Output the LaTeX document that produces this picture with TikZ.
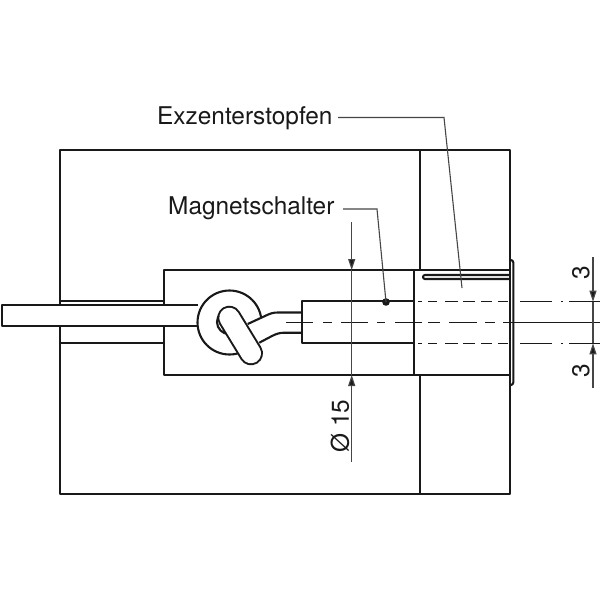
\documentclass[tikz,border=0pt]{standalone}
\usepackage{fontspec}
\setmainfont{TeX Gyre Heros}
\usetikzlibrary{arrows.meta}
\definecolor{ink}{RGB}{25,25,25}
\definecolor{thin}{RGB}{70,70,70}
\tikzset{
  x=1pt,y=-1pt,
  heavy/.style={line width=2.1pt,draw=ink,line cap=butt,line join=round},
  axis/.style={line width=1.5pt,draw=ink},
  leader/.style={line width=1.1pt,draw=thin},
  dimline/.style={line width=1.2pt,draw=thin},
  dimtip/.style={-{Triangle[length=11pt,width=7pt,fill=ink]}},
  lbl/.style={inner sep=0pt,font=\fontsize{24.4}{28}\selectfont,text=ink},
  dimlbl/.style={inner sep=0pt,rotate=90,font=\fontsize{24.4}{28}\selectfont,text=ink},
}
\begin{document}
\begin{tikzpicture}
\useasboundingbox (0,0) rectangle (600,600);
\fill[white] (0,0) rectangle (600,600);
% body
\draw[heavy] (60,305) -- (60,150) -- (510,150) -- (510,494) -- (60,494) -- (60,326);
\draw[heavy] (420,150) -- (420,270);
\draw[heavy] (420,375) -- (420,494);
\draw[heavy] (164,305) -- (164,270) -- (510,270);
\draw[heavy] (164,326) -- (164,375) -- (510,375);
\draw[heavy] (414,270) -- (414,375);
\draw[heavy] (60,301) -- (164,301);
\draw[heavy] (60,343) -- (164,343);
% rod
\draw[heavy] (198,305) -- (2,305) -- (2,326) -- (198,326);
% ring
\draw[heavy,fill=white] (229.5,322.5) circle[radius=32];
\draw[heavy] (229,322) circle[radius=12];
% wire
\fill[white] (246,325) -- (265,316) -- (278,312.5) -- (302,312.5) -- (302,332.7) -- (285,332.7) -- (258,344) -- cycle;
\draw[heavy] (247.7,324) -- (265,316) .. controls (270,313.5) and (273,312.5) .. (278,312.5) -- (302.3,312.5);
\draw[heavy] (259.3,342.7) -- (272,336) .. controls (277,333.5) and (280,332.7) .. (285,332.7) -- (302.3,332.7);
% link
\coordinate (la) at (229.3,317.7);
\coordinate (lb) at (251,353.3);
\draw[line width=24pt,draw=ink,line cap=round] (la) -- (lb);
\draw[line width=20pt,draw=white,line cap=round] (la) -- (lb);
% switch
\draw[heavy] (414,301) -- (302.3,301) -- (302.3,343) -- (414,343);
\fill[ink] (386,302) circle[radius=3.8];
% centre line
\foreach \a/\b in {286/313,323/332,341/368,377/385,395/422,428/440,449/477,485/495,503/600}
  \draw[axis] (\a,322.3) -- (\b,322.3);
% hidden lines
\foreach \yy in {301.7,343.3}
  \foreach \a/\b in {418/422,428/437,445/458,463/475,481/492,498/508,520/552,561/563,569/600}
    \draw[axis] (\a,\yy) -- (\b,\yy);
% flange
\draw[heavy,rounded corners=2.5pt] (510,260) -- (513.3,260) -- (513.3,385) -- (510,385);
% slot
\draw[heavy,rounded corners=2pt] (510,275) -- (423,275) -- (423,279) -- (510,279);
% labels
\node[lbl,anchor=base west] (ex) at (157,124) {Exzenterstopfen};
\node[lbl,anchor=base west] (ma) at (168,214) {Magnetschalter};
\coordinate (exa) at (338,117.5);
\coordinate (exb) at (444,117.5);
\coordinate (exc) at (462,288);
\draw[leader] (exa) -- (exb) -- (exc);
\coordinate (maa) at (343,209);
\coordinate (mab) at (377,209);
\coordinate (mac) at (386,302);
\draw[leader] (maa) -- (mab) -- (mac);
% dimension 15
\coordinate (da) at (351.7,222);
\coordinate (db) at (351.7,270);
\coordinate (dc) at (351.7,375);
\coordinate (dd) at (351.7,462);
\draw[dimline] (db) -- (dc);
\draw[dimline,dimtip] (da) -- (db);
\draw[dimline,dimtip] (dd) -- (dc);
\node[dimlbl] (d15) at (340,426) {Ø 15};
% dimension 3
\coordinate (ta) at (593,257);
\coordinate (tb) at (593,301.7);
\coordinate (tc) at (593,343.3);
\coordinate (td) at (593,388);
\draw[dimline] (tb) -- (tc);
\draw[dimline,dimtip] (ta) -- (tb);
\draw[dimline,dimtip] (td) -- (tc);
\node[dimlbl] (t1) at (581,273) {3};
\node[dimlbl] (t2) at (581,371) {3};
\end{tikzpicture}
\end{document}
